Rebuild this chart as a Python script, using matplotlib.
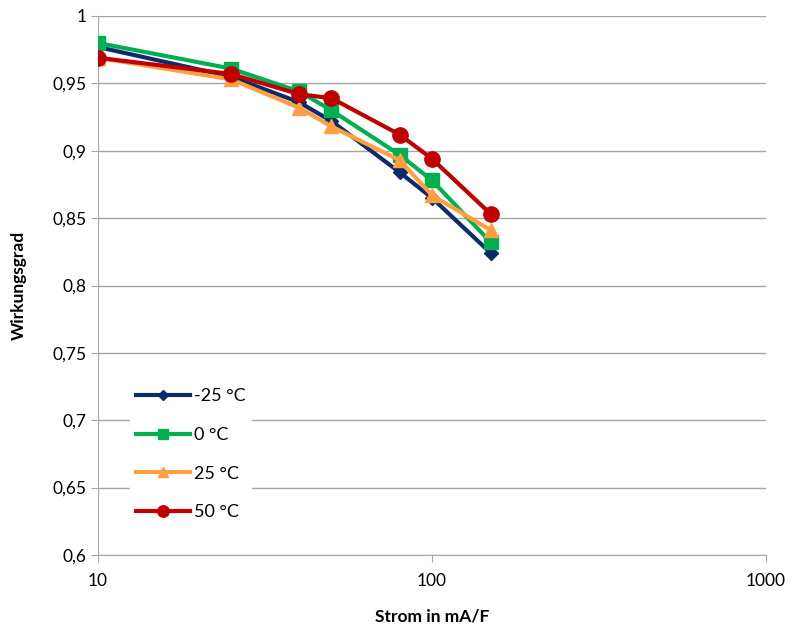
import matplotlib
matplotlib.use("Agg")
import matplotlib.pyplot as plt
from matplotlib.ticker import FixedLocator, FuncFormatter, NullLocator

# Daten
strom = [10, 25, 40, 50, 80, 100, 150]
eta_m25 = [0.977, 0.955, 0.936, 0.922, 0.884, 0.865, 0.824]
eta_0 = [0.980, 0.961, 0.944, 0.930, 0.897, 0.878, 0.832]
eta_25 = [0.969, 0.953, 0.932, 0.918, 0.893, 0.867, 0.841]
eta_50 = [0.969, 0.957, 0.942, 0.939, 0.912, 0.894, 0.853]
labels = ["-25 °C", "0 °C", "25 °C", "50 °C"]

y_ticks = [0.6, 0.65, 0.7, 0.75, 0.8, 0.85, 0.9, 0.95, 1.0]
x_ticks = [10, 100, 1000]

plt.rcParams["font.family"] = ["Lato", "DejaVu Sans"]

fig = plt.figure(figsize=(7.92, 6.28), dpi=100)
ax = fig.add_axes([98 / 792, (628 - 555) / 628, (766 - 98) / 792, (555 - 16) / 628])

serien = [
    (eta_m25, "#0D2A6B", "D", 7),
    (eta_0, "#00B050", "s", 9.5),
    (eta_25, "#FF9F3F", "^", 10),
    (eta_50, "#C00000", "o", 11),
]
for (werte, farbe, marker, ms), lab in zip(serien, labels):
    ax.plot(strom, werte, color=farbe, lw=3, marker=marker, ms=ms,
            markerfacecolor=farbe, markeredgecolor=farbe, label=lab, zorder=3)

ax.set_xscale("log")
ax.set_xlim(10, 1000)
ax.set_ylim(0.6, 1.0)
ax.xaxis.set_major_locator(FixedLocator(x_ticks))
ax.xaxis.set_minor_locator(NullLocator())
ax.xaxis.set_major_formatter(FuncFormatter(lambda v, p: f"{v:.0f}"))
ax.yaxis.set_major_locator(FixedLocator(y_ticks))
ax.yaxis.set_major_formatter(FuncFormatter(lambda v, p: f"{v:g}".replace(".", ",")))

ax.grid(axis="y", color="#A6A6A6", lw=1)
ax.set_axisbelow(True)
for s in ["top", "right"]:
    ax.spines[s].set_visible(False)
for s in ["left", "bottom"]:
    ax.spines[s].set_color("#A6A6A6")
ax.tick_params(axis="both", colors="#A6A6A6", labelcolor="black", labelsize=12.5, length=5)
ax.tick_params(axis="x", pad=8)

ax.set_xlabel("Strom in mA/F", fontsize=12.5, fontweight="bold", labelpad=14)
ax.set_ylabel("Wirkungsgrad", fontsize=12.5, fontweight="bold", labelpad=18)

leg = ax.legend(loc="lower left", bbox_to_anchor=(0.035, 0.038), frameon=True,
                fontsize=13, handlelength=3, labelspacing=1.25, borderpad=0.3,
                handletextpad=0.2, markerscale=0.75)
leg.get_frame().set_facecolor("white")
leg.get_frame().set_edgecolor("white")
leg.get_frame().set_alpha(1)

fig.savefig("out.png", dpi=100)
